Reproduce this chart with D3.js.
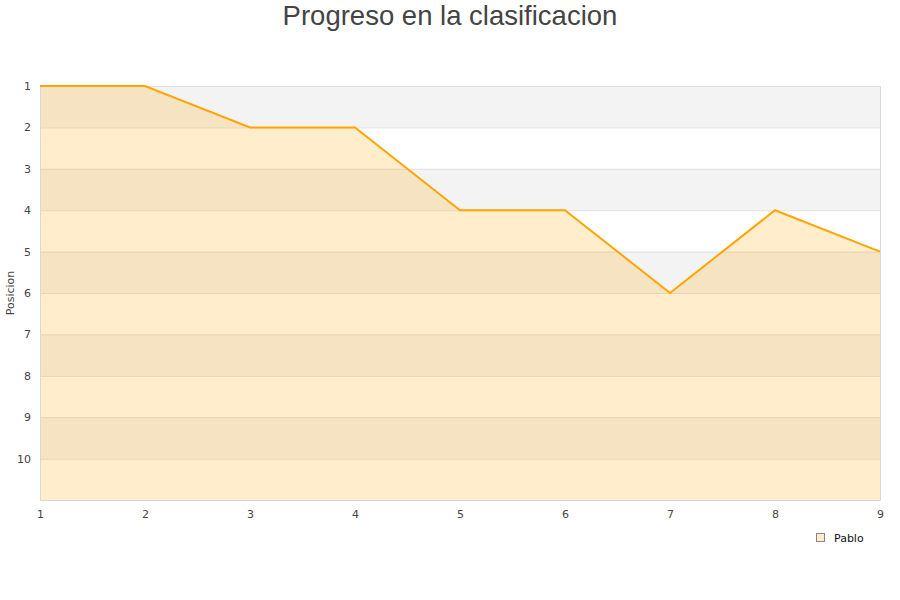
<!DOCTYPE html>
<html><head><meta charset="utf-8">
<script src="https://cdn.jsdelivr.net/npm/d3@7"></script>
<style>body{margin:0;background:#fff;font-family:"DejaVu Sans",sans-serif;}</style>
</head><body>
<svg id="chart" width="900" height="600"></svg>
<script>
const jornadas = [1,2,3,4,5,6,7,8,9];
const posiciones = [1,1,2,2,4,4,6,4,5];
const yTicks = [1,2,3,4,5,6,7,8,9,10];
const seriesName = "Pablo";

const svg = d3.select("#chart");
const L=40,R=880,T=86,B=500;
const x = d3.scaleLinear().domain([1,9]).range([L,R]);
const y = d3.scaleLinear().domain([1,11]).range([T,B]);

// bands
const bands = d3.range(1,11);
svg.selectAll("rect.band").data(bands).enter().append("rect")
  .attr("x",L).attr("width",R-L)
  .attr("y",d=>y(d)).attr("height",d=>y(d+1)-y(d))
  .attr("fill",d=>d%2===1?"#f3f3f3":"#ffffff");

// grid
svg.selectAll("line.grid").data(yTicks).enter().append("line")
  .attr("x1",L).attr("x2",R).attr("y1",d=>y(d)+0.5).attr("y2",d=>y(d)+0.5)
  .attr("stroke","#e0e0e0").attr("stroke-width",1);

// area
const area = d3.area().x((d,i)=>x(jornadas[i])).y0(y(11)).y1(d=>y(d));
svg.append("path").datum(posiciones).attr("d",area)
  .attr("fill","#ffa500").attr("fill-opacity",0.2);

// frame
svg.append("path").attr("d",`M${L+0.5},${T} V${B+0.5} H${R+0.5} V${T}`)
  .attr("fill","none").attr("stroke","#d8d8d8");

// line
const line = d3.line().x((d,i)=>x(jornadas[i])).y(d=>y(d));
svg.append("path").datum(posiciones).attr("d",line)
  .attr("fill","none").attr("stroke","#ffa500").attr("stroke-width",2).attr("stroke-linejoin","miter");

// axes
const yAxis = d3.axisLeft(y).tickValues(yTicks).tickSize(0).tickPadding(9);
const gy = svg.append("g").attr("transform",`translate(${L},0)`).call(yAxis);
gy.select(".domain").remove();
gy.selectAll("text").attr("fill","#444").attr("font-size",11).attr("font-family","DejaVu Sans, sans-serif");

const xAxis = d3.axisBottom(x).tickValues(jornadas).tickSize(0).tickPadding(10).tickFormat(d3.format("d"));
const gx = svg.append("g").attr("transform",`translate(0,${B})`).call(xAxis);
gx.select(".domain").remove();
gx.selectAll("text").attr("fill","#444").attr("font-size",11).attr("font-family","DejaVu Sans, sans-serif");

// title
svg.append("text").attr("x",450).attr("y",25).attr("text-anchor","middle")
  .attr("font-size",27.5).attr("fill","#444").attr("font-family","Liberation Sans, Arial, sans-serif")
  .text("Progreso en la clasificacion");

// y title
svg.append("text").attr("transform",`translate(14,293) rotate(-90)`).attr("text-anchor","middle")
  .attr("font-size",11).attr("fill","#444").text("Posicion");

// legend
const lg = svg.append("g").attr("transform","translate(816,533)");
lg.append("rect").attr("width",8).attr("height",8).attr("x",0.5).attr("y",0.5)
  .attr("fill","#ffeccc").attr("stroke","#888");
lg.append("text").attr("x",18).attr("y",8.5).attr("font-size",11).attr("fill","#111").text(seriesName);
</script>
</body></html>
